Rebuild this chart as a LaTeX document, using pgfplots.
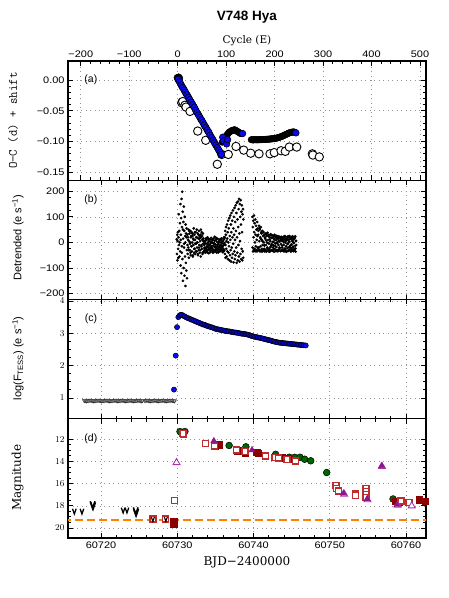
\documentclass[border=0pt]{standalone}
\usepackage{fontspec}
\usepackage{pgfplots}
\pgfplotsset{compat=1.18}
\setmainfont{Liberation Sans}
\newfontfamily\tickfont[FakeStretch=1.15]{Liberation Sans}
\newfontfamily\serlab{DejaVu Serif}
\definecolor{myblue}{RGB}{10,10,235}
\definecolor{dgreen}{RGB}{0,100,0}
\definecolor{dred}{RGB}{139,0,0}
\definecolor{ored}{RGB}{190,45,45}
\definecolor{purp}{RGB}{140,20,140}
\definecolor{opurp}{RGB}{170,50,170}
\pgfdeclareplotmark{vlim}{%
 \pgfpathmoveto{\pgfqpoint{-0.7\pgfplotmarksize}{\pgfplotmarksize}}%
 \pgfpathlineto{\pgfqpoint{0pt}{-\pgfplotmarksize}}%
 \pgfpathlineto{\pgfqpoint{0.7\pgfplotmarksize}{\pgfplotmarksize}}%
 \pgfusepathqstroke}
\pgfplotsset{panel/.style={scale only axis, width=358pt, height=119.25pt,
  anchor=north west, axis line style={line width=1.2pt},
  every tick/.style={line width=0.9pt, black},
  major tick length=5pt, minor tick length=3pt, tick align=inside,
  grid=major, major grid style={dash pattern=on 1pt off 3.5pt, gray!85, line width=0.6pt},
  tick label style={font=\tickfont\fontsize{9.5}{11}\selectfont},
  scaled ticks=false, clip=true},
  dayx/.style={xmin=60715.67, xmax=60762.62, xtick={60720,60730,60740,60750,60760}, minor x tick num=4}}
\begin{document}
\begin{tikzpicture}[x=1pt,y=1pt]
\useasboundingbox (0pt,0pt) rectangle (449pt,598pt);
\node[font=\bfseries\fontsize{13.5}{16}\selectfont] at (247pt,581pt) {V748 Hya};
\node[font=\serlab\fontsize{10.5}{12}\selectfont] at (247pt,557pt) {Cycle (E)};
\node[font=\serlab\fontsize{12}{14}\selectfont] at (247pt,36pt) {BJD−2400000};
\node[rotate=90,font=\ttfamily\fontsize{12.5}{14}\selectfont] at (13pt,477.4pt) {O−C (d) + shift};
\node[rotate=90,font=\fontsize{11}{13}\selectfont] at (18pt,360.5pt) {Detrended (e s\textsuperscript{−1})};
\node[rotate=90,font=\fontsize{11}{13}\selectfont] at (18pt,239.7pt) {log(F\textsubscript{TESS}) (e s\textsuperscript{−1})};
\node[rotate=90,font=\serlab\fontsize{12}{14}\selectfont] at (17.7pt,120.3pt) {Magnitude};

% ---------------- (a)
\begin{axis}[panel, at={(68pt,537pt)},
 xmin=-226.4, xmax=512.4, ymin=-0.163, ymax=0.031,
 xtick={-200,-100,0,100,200,300,400,500},
 xticklabels={−200,−100,0,100,200,300,400,500},
 xticklabel pos=upper, minor x tick num=4,
 ytick={-0.15,-0.1,-0.05,0}, yticklabels={−0.15,−0.10,−0.05,0.00},
 minor y tick num=4]
\addplot[only marks, mark=*, mark size=4.2pt, mark options={draw=black, fill=white, line width=0.9pt}] coordinates {
(8.3,-0.037)(10.3,-0.035)(15,-0.041)(17.1,-0.044)(25.4,-0.051)(41.3,-0.083)(57.8,-0.098)(81.7,-0.137)(90.8,-0.121)(104.4,-0.121)(120.3,-0.108)(136.2,-0.114)(150.6,-0.119)(167.8,-0.120)(190.5,-0.120)(199.3,-0.118)(213.2,-0.115)(222,-0.116)(230.3,-0.109)(245.6,-0.109)(277.8,-0.120)(279,-0.122)(292.2,-0.125)};
\addplot[only marks, mark=*, mark size=3.3pt, mark options={draw=black, fill=black}] coordinates {
(-1,0.004)(2,0.005)(4,0.003)
(0,0.002)(2,-0.001)(4,-0.003)(6,-0.006)(8,-0.009)(10,-0.012)(12,-0.014)(14,-0.017)(16,-0.020)(18,-0.023)(20,-0.025)(22,-0.028)(24,-0.031)(26,-0.034)(28,-0.036)(30,-0.039)(32,-0.042)(34,-0.044)(36,-0.047)(38,-0.050)(40,-0.053)(42,-0.055)(44,-0.058)(46,-0.061)(48,-0.064)(50,-0.066)(52,-0.069)(54,-0.072)(56,-0.075)(58,-0.077)(60,-0.080)(62,-0.083)(64,-0.085)(66,-0.088)(68,-0.091)(70,-0.094)(72,-0.096)(74,-0.099)(76,-0.102)(78,-0.105)(80,-0.107)(82,-0.110)(84,-0.113)(86,-0.116)(88,-0.118)(90,-0.121)
(92,-0.101)(94,-0.099)(96,-0.096)(98,-0.094)(100,-0.091)(102,-0.089)(104,-0.087)(106,-0.085)(108,-0.084)(110,-0.083)(112,-0.082)(114,-0.082)(116,-0.081)(118,-0.081)(120,-0.082)(122,-0.083)(124,-0.084)(126,-0.085)(128,-0.086)(130,-0.087)(132,-0.087)
(152,-0.097)(154,-0.097)(156,-0.0975)(158,-0.097)(160,-0.097)(162,-0.0972)(164,-0.097)(166,-0.0972)(168,-0.097)(170,-0.0968)(172,-0.097)(174,-0.0968)(176,-0.0966)(178,-0.0968)(180,-0.0966)(182,-0.0965)(184,-0.0964)(186,-0.0962)(188,-0.0962)(190,-0.096)(192,-0.0958)(194,-0.0956)(196,-0.0955)(198,-0.0953)(200,-0.095)(202,-0.0947)(204,-0.0945)(206,-0.094)(208,-0.0935)(210,-0.093)(212,-0.0925)(214,-0.092)(216,-0.0912)(218,-0.0905)(220,-0.0897)(222,-0.089)(224,-0.0882)(226,-0.0875)(228,-0.0868)(230,-0.086)(232,-0.0855)(234,-0.085)(236,-0.0847)(238,-0.0845)(240,-0.0845)(242,-0.085)};
\addplot[only marks, mark=*, mark size=3.3pt, mark options={draw=black, fill=myblue, line width=0.5pt}] coordinates {
(1,0.001)(4,-0.003)(7,-0.008)(10,-0.012)(13,-0.016)(16,-0.020)(19,-0.024)(22,-0.028)(25,-0.032)(28,-0.036)(31,-0.040)(34,-0.044)(37,-0.049)(40,-0.053)(43,-0.057)(46,-0.061)(49,-0.065)(52,-0.069)(55,-0.073)(58,-0.077)(61,-0.081)(64,-0.085)(67,-0.090)(70,-0.094)(73,-0.098)(76,-0.102)(79,-0.106)(82,-0.110)(85,-0.114)(88,-0.118)(90,-0.121)
(92.8,-0.093)(95,-0.099)(101,-0.104)(103,-0.097)(134,-0.087)(244,-0.086)};
\node[font=\fontsize{10.5}{12}\selectfont] at (axis description cs:0.064,0.84) {(a)};
\end{axis}

% ---------------- (b)
\begin{axis}[panel, dayx, at={(68pt,417.75pt)}, xticklabels={},
 ymin=-223, ymax=243, ytick={-200,-100,0,100,200},
 yticklabels={−200,−100,0,100,200}, minor y tick num=3]
\addplot[only marks, mark=*, mark size=1.15pt, mark options={draw=black, fill=black}] coordinates {
(60729.93,12)(60729.96,-45)(60729.99,30)(60730.02,-70)(60730.05,5)(60730.08,40)(60730.11,-25)(60730.14,-60)(60730.17,20)(60730.20,110)(60730.23,-10)(60730.26,45)(60730.29,-55)(60730.32,0)(60730.35,75)(60730.38,-35)
(60730.41,150)(60730.44,-90)(60730.47,30)(60730.50,95)(60730.53,-120)(60730.56,170)(60730.59,-40)(60730.62,60)(60730.65,198)(60730.68,-65)(60730.71,120)(60730.74,-150)(60730.77,15)(60730.80,80)(60730.83,-100)(60730.86,140)(60730.89,-20)(60730.92,45)(60730.95,-130)(60730.98,100)(60731.01,-55)(60731.04,25)(60731.07,-170)(60731.10,70)(60731.13,-80)(60731.16,35)(60731.19,-110)(60731.22,55)(60731.25,-30)(60731.28,-140)(60730.45,10)(60730.60,-15)(60730.75,50)(60730.90,-5)(60731.05,0)(60731.20,20)
(60731.32,30)(60731.36,-45)(60731.40,10)(60731.44,-20)(60731.48,50)(60731.52,-60)(60731.56,5)(60731.60,35)(60731.64,-30)(60731.68,-5)(60731.72,45)(60731.76,-50)(60731.80,20)(60731.84,-15)(60731.88,40)(60731.92,-35)(60731.96,0)(60732.00,25)(60732.04,-55)(60732.08,15)(60732.12,-10)(60732.16,55)(60732.20,-40)(60732.24,30)(60732.28,-25)(60732.32,10)(60732.36,-45)(60732.40,40)(60732.44,-5)(60732.48,20)(60732.52,-35)(60732.56,50)(60732.60,-20)(60732.64,0)(60732.68,35)(60732.72,-50)(60732.76,15)(60732.80,-30)(60732.84,45)(60732.88,-10)(60732.92,25)(60732.96,-40)(60733.00,5)(60733.04,30)(60733.08,-55)(60733.12,20)(60733.16,-15)(60733.20,40)(60733.24,-25)(60733.28,10)(60733.32,-45)(60733.36,35)(60733.40,-5)(60733.44,15)(60733.48,-35)
(60731.34,-10)(60731.42,20)(60731.50,-30)(60731.58,45)(60731.66,0)(60731.74,-40)(60731.82,25)(60731.90,-15)(60731.98,35)(60732.06,-50)(60732.14,10)(60732.22,-25)(60732.30,40)(60732.38,-5)(60732.46,-35)(60732.54,20)(60732.62,0)(60732.70,-45)(60732.78,30)(60732.86,-20)(60732.94,15)(60733.02,-30)(60733.10,50)(60733.18,-10)(60733.26,25)(60733.34,-40)(60733.42,5)
(60733.52,-10)(60733.56,-30)(60733.60,5)(60733.64,-20)(60733.68,-40)(60733.72,15)(60733.76,-5)(60733.80,-25)(60733.84,10)(60733.88,-35)(60733.92,-15)(60733.96,20)(60734.00,-30)(60734.04,0)(60734.08,-20)(60734.12,-42)(60734.16,5)(60734.20,-10)(60734.24,-28)(60734.28,12)(60734.32,-38)(60734.36,-5)(60734.40,-22)(60734.44,18)(60734.48,-15)(60734.52,-33)(60734.56,0)(60734.60,-25)(60734.64,8)(60734.68,-40)(60734.72,-12)(60734.76,15)(60734.80,-30)(60734.84,-3)(60734.88,-18)(60734.92,22)(60734.96,-35)(60735.00,-8)(60735.04,-26)(60735.08,10)(60735.12,-20)(60735.16,-40)(60735.20,2)(60735.24,-14)(60735.28,-30)(60735.32,14)(60735.36,-24)(60735.40,-6)(60735.44,-36)(60735.48,6)(60735.52,-16)(60735.56,-28)(60735.60,12)(60735.64,-10)(60735.68,-34)(60735.72,0)(60735.76,-22)(60735.80,16)(60735.84,-30)(60735.88,-4)(60735.92,-18)(60735.96,-38)(60736.00,8)(60736.04,-12)(60736.08,-26)(60736.12,20)(60736.16,-32)(60736.20,-2)
(60733.54,-22)(60733.62,-2)(60733.70,-31)(60733.78,9)(60733.86,-18)(60733.94,-39)(60734.02,-7)(60734.10,14)(60734.18,-26)(60734.26,-12)(60734.34,3)(60734.42,-34)(60734.50,-20)(60734.58,11)(60734.66,-28)(60734.74,-4)(60734.82,-37)(60734.90,6)(60734.98,-16)(60735.06,-31)(60735.14,17)(60735.22,-23)(60735.30,-9)(60735.38,-39)(60735.46,1)(60735.54,-19)(60735.62,-33)(60735.70,10)(60735.78,-13)(60735.86,-27)(60735.94,4)(60736.02,-35)(60736.10,-5)(60736.18,14)
(60736.22,20)(60736.25,-45)(60736.28,45)(60736.31,-10)(60736.34,-60)(60736.37,30)(60736.40,60)(60736.43,-25)(60736.46,5)(60736.49,-55)(60736.52,70)(60736.55,15)(60736.58,-35)(60736.61,40)(60736.64,-65)(60736.67,85)(60736.70,0)(60736.73,-40)(60736.76,55)(60736.79,-15)(60736.82,95)(60736.85,-70)(60736.88,25)(60736.91,-50)(60736.94,105)(60736.97,10)(60737.00,-30)(60737.03,70)(60737.06,-75)(60737.09,40)(60737.12,115)(60737.15,-20)(60737.18,-60)(60737.21,85)(60737.24,20)(60737.27,-45)(60737.30,125)(60737.33,-5)(60737.36,55)(60737.39,-78)(60737.42,100)(60737.45,30)(60737.48,-35)(60737.51,135)(60737.54,-65)(60737.57,10)(60737.60,80)(60737.63,-50)(60737.66,145)(60737.69,45)(60737.72,-20)(60737.75,115)(60737.78,-80)(60737.81,155)(60737.84,20)(60737.87,-40)(60737.90,90)(60737.93,-70)(60737.96,160)(60737.99,60)(60738.02,-10)(60738.05,130)(60738.08,-55)(60738.11,170)(60738.14,35)(60738.17,-75)(60738.20,150)(60738.23,5)(60738.26,100)(60738.29,-45)(60738.32,165)(60738.35,70)(60738.38,-65)(60738.41,120)(60738.44,-25)(60738.47,145)(60738.50,40)(60738.53,-70)(60738.56,110)(60738.59,-35)(60738.62,130)(60738.65,-60)(60738.67,90)
(60739.85,100)(60739.88,-20)(60739.91,60)(60739.94,-35)(60739.97,85)(60740.00,20)(60740.03,-30)(60740.06,105)(60740.09,40)(60740.12,-25)(60740.15,75)(60740.18,0)(60740.21,-35)(60740.24,90)(60740.27,30)(60740.30,-15)(60740.33,65)(60740.36,-30)(60740.39,50)(60740.42,10)(60740.45,-35)(60740.48,80)(60740.51,25)(60740.54,-20)(60740.57,55)(60740.60,-30)
(60740.64,45)(60740.68,-28)(60740.72,65)(60740.76,5)(60740.80,-34)(60740.84,50)(60740.88,20)(60740.92,-15)(60740.96,60)(60741.00,-30)(60741.04,35)(60741.08,10)(60741.12,-36)(60741.16,45)(60741.20,-10)(60741.24,25)(60741.28,-30)(60741.32,40)(60741.36,0)(60741.40,-25)(60741.44,30)(60741.48,-35)
(60741.52,15)(60741.56,-30)(60741.60,35)(60741.64,-10)(60741.68,-36)(60741.72,25)(60741.76,0)(60741.80,-20)(60741.84,38)(60741.88,-28)(60741.92,10)(60741.96,-34)(60742.00,30)(60742.04,-5)(60742.08,-25)(60742.12,20)(60742.16,-35)(60742.20,5)(60742.24,32)(60742.28,-15)(60742.32,-30)(60742.36,18)(60742.40,-8)(60742.44,28)(60742.48,-33)(60742.52,2)(60742.56,-20)(60742.60,25)(60742.64,-12)(60742.68,-36)(60742.72,12)(60742.76,30)(60742.80,-26)(60742.84,-4)(60742.88,22)(60742.92,-32)(60742.96,8)(60743.00,-18)(60743.04,26)(60743.08,-30)(60743.12,0)(60743.16,20)(60743.20,-35)(60743.24,14)(60743.28,-10)(60743.32,24)(60743.36,-28)(60743.40,4)(60743.44,-22)(60743.48,18)(60743.52,-34)(60743.56,10)(60743.60,-6)(60743.64,22)(60743.68,-30)(60743.72,6)
(60743.76,-20)(60743.80,15)(60743.84,-32)(60743.88,5)(60743.92,22)(60743.96,-10)(60744.00,-35)(60744.04,12)(60744.08,-25)(60744.12,25)(60744.16,0)(60744.20,-30)(60744.24,18)(60744.28,-15)(60744.32,-36)(60744.36,8)(60744.40,20)(60744.44,-22)(60744.48,-5)(60744.52,24)(60744.56,-33)(60744.60,10)(60744.64,-18)(60744.68,2)(60744.72,25)(60744.76,-28)(60744.80,14)(60744.84,-12)(60744.88,-35)(60744.92,20)(60744.96,-8)(60745.00,-25)(60745.04,16)(60745.08,-30)(60745.12,4)(60745.16,22)(60745.20,-20)(60745.24,-34)(60745.28,12)(60745.32,-2)(60745.36,-28)(60745.40,18)(60745.44,-14)(60745.48,24)(60745.52,-36)(60745.56,6)(60745.60,-10)
(60740.62,30)(60740.70,-20)(60740.78,55)(60740.86,-35)(60740.94,15)(60741.02,40)(60741.10,-25)(60741.18,5)(60741.26,-33)(60741.34,28)(60741.42,-12)(60741.50,20)(60741.58,-30)(60741.66,8)(60741.74,30)(60741.82,-22)(60741.90,-2)(60741.98,25)(60742.06,-35)(60742.14,12)(60742.22,-18)(60742.30,28)(60742.38,-8)(60742.46,-30)(60742.54,18)(60742.62,2)(60742.70,-26)(60742.78,24)(60742.86,-14)(60742.94,-34)(60743.02,16)(60743.10,-4)(60743.18,22)(60743.26,-28)(60743.34,6)(60743.42,-20)(60743.50,20)(60743.58,-34)(60743.66,10)(60743.74,-12)(60743.82,18)(60743.90,-30)(60743.98,0)(60744.06,22)(60744.14,-24)(60744.22,8)(60744.30,-36)(60744.38,14)(60744.46,-6)(60744.54,20)(60744.62,-30)(60744.70,2)(60744.78,16)(60744.86,-20)(60744.94,-34)(60745.02,10)(60745.10,24)(60745.18,-16)(60745.26,-2)(60745.34,-30)(60745.42,18)(60745.50,-24)(60745.58,6)};
\node[font=\fontsize{10.5}{12}\selectfont] at (axis description cs:0.064,0.836) {(b)};
\end{axis}

% ---------------- (c)
\begin{axis}[panel, dayx, at={(68pt,298.5pt)}, xticklabels={},
 ymin=0.359, ymax=4.045, ytick={1,2,3,4}, minor y tick num=3]
\addplot[only marks, mark=triangle*, mark size=2.2pt, mark options={rotate=180, fill=gray!65, draw=gray!30!black, line width=0.4pt}] coordinates {
(60717.80,0.92)(60717.95,0.92)(60718.10,0.91)(60718.25,0.92)(60718.40,0.92)(60718.55,0.93)(60718.70,0.92)(60718.85,0.92)(60719.00,0.91)(60719.15,0.92)(60719.30,0.92)(60719.45,0.92)(60719.60,0.93)(60719.75,0.92)(60719.90,0.92)(60720.05,0.91)(60720.20,0.92)(60720.35,0.92)(60720.50,0.92)(60720.65,0.93)(60720.80,0.92)(60720.95,0.92)(60721.10,0.91)(60721.25,0.92)(60721.40,0.92)(60721.55,0.92)(60721.70,0.92)(60721.85,0.93)(60722.00,0.92)(60722.15,0.91)(60722.30,0.92)(60722.45,0.92)(60722.60,0.92)(60722.75,0.93)(60722.90,0.92)(60723.05,0.92)(60723.20,0.91)(60723.35,0.92)(60723.50,0.92)(60723.65,0.92)(60723.80,0.93)(60723.95,0.92)(60724.10,0.92)(60724.25,0.91)(60724.40,0.92)(60724.55,0.92)(60724.70,0.92)(60724.85,0.93)(60725.00,0.92)(60725.15,0.92)(60725.30,0.91)(60725.45,0.92)
(60725.75,0.92)(60725.90,0.92)(60726.05,0.93)(60726.20,0.92)(60726.35,0.92)(60726.50,0.91)(60726.65,0.92)(60726.80,0.92)(60726.95,0.92)(60727.10,0.93)(60727.25,0.92)(60727.40,0.92)(60727.55,0.91)(60727.70,0.92)(60727.85,0.92)(60728.00,0.92)(60728.15,0.93)(60728.30,0.92)(60728.45,0.92)(60728.60,0.91)(60728.75,0.92)(60728.90,0.92)(60729.05,0.92)(60729.20,0.93)(60729.35,0.92)(60729.50,0.92)(60729.65,0.91)};
\addplot[only marks, mark=*, mark size=2.6pt, mark options={draw=black, fill=myblue, line width=0.5pt}] coordinates {
(60729.57,1.26)(60729.80,2.31)(60729.97,3.19)
(60730.14,3.50)(60730.30,3.55)(60730.45,3.57)(60730.60,3.57)(60730.80,3.54)(60731.00,3.52)(60731.20,3.49)(60731.40,3.47)(60731.60,3.45)(60731.80,3.43)(60732.00,3.41)(60732.20,3.39)(60732.40,3.37)(60732.60,3.35)(60732.80,3.33)(60733.00,3.31)(60733.20,3.29)(60733.40,3.27)(60733.60,3.26)(60733.80,3.24)(60734.00,3.22)(60734.20,3.21)(60734.40,3.19)(60734.60,3.18)(60734.80,3.16)(60735.00,3.14)(60735.20,3.13)(60735.40,3.12)(60735.60,3.11)(60735.80,3.10)(60736.00,3.09)(60736.20,3.08)(60736.40,3.07)(60736.60,3.065)(60736.80,3.06)(60737.00,3.05)(60737.20,3.04)(60737.40,3.03)(60737.60,3.025)(60737.80,3.02)(60738.00,3.01)(60738.20,3.00)(60738.40,2.99)(60738.60,2.985)(60738.80,2.98)(60739.00,2.97)(60739.20,2.96)(60739.40,2.95)(60739.60,2.93)(60739.80,2.915)(60740.00,2.90)(60740.20,2.89)(60740.40,2.88)(60740.60,2.87)(60740.80,2.86)(60741.00,2.85)(60741.20,2.84)(60741.40,2.825)(60741.60,2.815)(60741.80,2.80)(60742.00,2.79)(60742.20,2.78)(60742.40,2.765)(60742.60,2.75)(60742.80,2.74)(60743.00,2.73)(60743.20,2.72)(60743.40,2.71)(60743.60,2.705)(60743.80,2.70)(60744.00,2.695)(60744.20,2.69)(60744.40,2.685)(60744.60,2.68)(60744.80,2.675)(60745.00,2.67)(60745.20,2.665)(60745.40,2.66)(60745.60,2.655)(60745.80,2.65)(60746.00,2.645)(60746.20,2.64)(60746.40,2.635)(60746.60,2.63)(60746.85,2.625)};
\node[font=\fontsize{10.5}{12}\selectfont] at (axis description cs:0.064,0.836) {(c)};
\end{axis}

% ---------------- (d)
\begin{axis}[panel, dayx, at={(68pt,179.25pt)},
 xticklabels={60720,60730,60740,60750,60760},
 y dir=reverse, ymin=10.15, ymax=20.9, ytick={12,14,16,18,20}, minor y tick num=3]
\addplot[color=orange, no markers, line width=2pt, dash pattern=on 8pt off 4pt] coordinates {(60715,19.27)(60763,19.27)};
\addplot[only marks, mark=vlim, mark size=2.6pt, black, line width=1.3pt] coordinates {
(60716.5,18.5)(60717.5,18.5)(60722.9,18.4)(60723.4,18.4)};
\addplot[only marks, mark=vlim, mark size=3.4pt, black, line width=1.6pt] coordinates {
(60718.9,17.9)(60718.95,18.0)(60724.55,18.45)(60724.6,18.6)};
\addplot[only marks, mark=*, mark size=3.4pt, mark options={draw=black, fill=dgreen, line width=0.5pt}] coordinates {
(60730.36,11.31)(60731.0,11.30)(60736.8,12.56)(60739.0,12.68)(60742.9,13.36)(60744.7,13.62)(60745.4,13.63)(60746.1,13.62)(60746.7,13.8)(60747.5,13.94)(60749.6,15.0)(60758.3,17.38)};
\addplot[only marks, mark=square*, mark size=3.3pt, mark options={draw=dred, fill=dred}] coordinates {
(60729.5,19.45)(60729.5,19.65)(60734.95,12.57)(60735.5,12.5)(60737.9,13.05)(60738.9,13.2)(60740.4,13.15)(60740.6,13.25)(60743.3,13.6)(60743.7,13.65)(60744.65,13.75)(60758.6,17.6)(60759.1,17.62)(60761.75,17.47)(60762.5,17.6)};
\addplot[only marks, mark=square*, mark size=3pt, mark options={draw=ored, fill=white, line width=1.3pt}] coordinates {
(60715.5,19.3)(60729.6,17.53)(60730.8,11.6)(60730.75,11.45)(60733.7,12.36)(60734.9,12.6)(60737.8,12.97)(60738.9,13.1)(60741.6,13.5)(60742.8,13.62)(60743.3,13.7)(60744.4,13.85)(60745.5,13.95)(60750.8,16.18)(60750.9,16.45)(60751.1,16.65)(60753.4,16.93)(60753.4,17.1)(60754.75,16.42)(60754.75,16.7)(60754.75,17.0)(60754.75,17.25)(60759.35,17.56)(60760.4,17.72)
(60726.8,19.2)(60728.5,19.2)};
\addplot[only marks, mark=vlim, mark size=2.2pt, black, line width=1.1pt] coordinates {(60726.8,19.2)(60728.5,19.2)};
\addplot[only marks, mark=triangle*, mark size=4pt, mark options={draw=opurp, fill=white, line width=0.9pt}] coordinates {
(60729.9,14.1)(60751.9,16.95)(60754.95,17.45)(60756.85,14.45)(60760.75,18.0)(60758.9,17.95)};
\addplot[only marks, mark=triangle*, mark size=3.6pt, mark options={draw=purp, fill=purp}] coordinates {
(60734.8,12.15)(60739.8,12.97)(60751.8,16.87)(60754.9,17.38)(60756.8,14.4)(60758.8,17.9)};
\node[font=\fontsize{10.5}{12}\selectfont] at (axis description cs:0.064,0.836) {(d)};
\end{axis}
\end{tikzpicture}
\end{document}
